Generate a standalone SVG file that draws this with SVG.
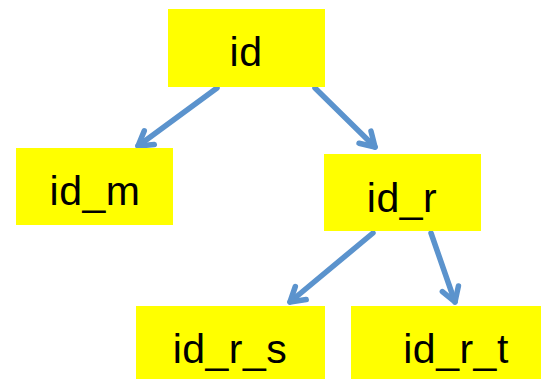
<svg xmlns="http://www.w3.org/2000/svg" width="541" height="379" viewBox="0 0 541 379">
<style>
.box{fill:#ffff00;}
.lbl{font-family:"Liberation Sans",Arial,sans-serif;font-size:41px;fill:#000;text-anchor:middle;letter-spacing:0.5px;}
.edge{stroke:#5b93cd;stroke-width:5.5;fill:none;stroke-linecap:round;}
</style>
<defs>
<marker id="arr" markerUnits="userSpaceOnUse" viewBox="-20 -12 24 24" markerWidth="24" markerHeight="24" refX="0" refY="0" orient="auto" overflow="visible">
<path d="M-14,-8.5 L0,0 L-14,8.5" fill="none" stroke="#5b93cd" stroke-width="5.5" stroke-linecap="round" stroke-linejoin="round"/>
</marker>
</defs>
<rect width="541" height="379" fill="#fff"/>
<g id="connectors">
<line class="edge" x1="217" y1="88" x2="138" y2="146" marker-end="url(#arr)"/>
<line class="edge" x1="315" y1="88" x2="375" y2="147" marker-end="url(#arr)"/>
<line class="edge" x1="373" y1="233" x2="290" y2="302" marker-end="url(#arr)"/>
<line class="edge" x1="431" y1="233" x2="455" y2="302" marker-end="url(#arr)"/>
</g>
<g id="node-id"><rect class="box" x="168" y="9" width="157" height="78"/><text class="lbl" x="246" y="66">id</text></g>
<g id="node-id_m"><rect class="box" x="16" y="148" width="157" height="77"/><text class="lbl" x="95" y="205">id_m</text></g>
<g id="node-id_r"><rect class="box" x="324" y="154" width="157" height="77"/><text class="lbl" x="402" y="212">id_r</text></g>
<g id="node-id_r_s"><rect class="box" x="136" y="306" width="189" height="73"/><text class="lbl" x="230" y="363">id_r_s</text></g>
<g id="node-id_r_t"><rect class="box" x="351" y="306" width="190" height="73"/><text class="lbl" x="456" y="363">id_r_t</text></g>
</svg>
